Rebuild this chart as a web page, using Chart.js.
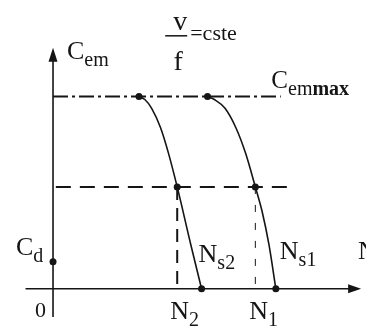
<!DOCTYPE html>
<html>
<head>
<meta charset="utf-8">
<script src="https://cdn.jsdelivr.net/npm/chart.js@4"></script>
<style>
html, body { margin: 0; padding: 0; background: #fff; }
#chart { display: block; }
</style>
</head>
<body>
<canvas id="chart" width="366" height="326"></canvas>
<script>
// vitesses (tr/min) et couples (% de Cemmax)
const syncSpeeds = [1500, 1000];          // Ns1, Ns2
const workSpeeds = [1362, 836];           // N1, N2
const torqueMax = 100;                    // Cemmax
const loadTorque = 53;                    // palier de charge
const startTorque = 14;                   // Cd

// caracteristique a f1
const curve1Speed  = [1040, 1086, 1158, 1231, 1296, 1362, 1408, 1454, 1500];
const curve1Torque = [100, 98.5, 93.9, 83.8, 70.6, 53, 40.1, 22.8, 0];
// caracteristique a f2 < f1
const curve2Speed  = [579, 618, 664, 724, 777, 836, 928, 1000];
const curve2Torque = [100, 98.5, 93.9, 83.8, 70.6, 53, 22.8, 0];

const xAxisEnds = [-185, 2074];
const yAxisEnds = [-14.7, 125.4];
const maxLineEnd = 1533;
const loadLineEnds = [19, 1580];

const INK = '#151515';
const FONT = '"Liberation Serif", "DejaVu Serif", serif';

function pts(xs, ys) {
    return xs.map((x, i) => ({ x: x, y: ys[i] }));
}

function seg(x0, y0, x1, y1) {
    return [{ x: x0, y: y0 }, { x: x1, y: y1 }];
}

function lineSet(data, width, dash, extra) {
    return Object.assign({
        data: data,
        showLine: true,
        borderColor: INK,
        borderWidth: width,
        borderDash: dash || [],
        pointRadius: 0,
        fill: false
    }, extra || {});
}

// etiquettes : ancre en donnees + decalage en pixels
const labels = [
    { at: [0, yAxisEnds[1]], dx: 14, dy: 11, main: 'C', sub: [{ t: 'em' }] },
    { at: [workSpeeds[0], torqueMax], dx: 16, dy: -9, main: 'C', sub: [{ t: 'em' }, { t: 'max', bold: true }], size: 25 },
    { at: [0, startTorque], dx: -37, dy: -7, main: 'C', sub: [{ t: 'd' }] },
    { at: [0, 0], dx: -18, dy: 28, main: '0', sub: [], size: 22 },
    { at: [syncSpeeds[1], 0], dx: -3, dy: -27, main: 'N', sub: [{ t: 's2' }] },
    { at: [syncSpeeds[0], 0], dx: 4, dy: -30, main: 'N', sub: [{ t: 's1' }] },
    { at: [workSpeeds[1], 0], dx: -7, dy: 30, main: 'N', sub: [{ t: '2' }] },
    { at: [workSpeeds[0], 0], dx: -6, dy: 30, main: 'N', sub: [{ t: '1' }] },
    { at: [xAxisEnds[1], 0], dx: -3, dy: -30, main: 'N', sub: [] }
];

function drawLabel(ctx, x, y, lab) {
    const size = lab.size || 26;
    ctx.font = size + 'px ' + FONT;
    ctx.fillText(lab.main, x, y);
    let cx = x + ctx.measureText(lab.main).width;
    lab.sub.forEach(function (s) {
        ctx.font = (s.bold ? 'bold ' : '') + '20px ' + FONT;
        ctx.fillText(s.t, cx, y + 7);
        cx += ctx.measureText(s.t).width;
    });
}

const sketchPlugin = {
    id: 'sketch',
    afterDatasetsDraw(chart) {
        const ctx = chart.ctx;
        const xs = chart.scales.x;
        const ys = chart.scales.y;
        ctx.save();
        ctx.fillStyle = INK;
        ctx.strokeStyle = INK;

        // fleches des axes
        const ox = xs.getPixelForValue(0);
        const ty = ys.getPixelForValue(yAxisEnds[1]);
        ctx.beginPath();
        ctx.moveTo(ox, ty);
        ctx.lineTo(ox - 4.5, ty + 14);
        ctx.lineTo(ox + 4.5, ty + 14);
        ctx.closePath();
        ctx.fill();

        const oy = ys.getPixelForValue(0);
        const tx = xs.getPixelForValue(xAxisEnds[1]);
        ctx.beginPath();
        ctx.moveTo(tx, oy);
        ctx.lineTo(tx - 13, oy - 4.5);
        ctx.lineTo(tx - 13, oy + 4.5);
        ctx.closePath();
        ctx.fill();

        ctx.textBaseline = 'alphabetic';
        labels.forEach(function (lab) {
            const px = xs.getPixelForValue(lab.at[0]) + lab.dx;
            const py = ys.getPixelForValue(lab.at[1]) + lab.dy;
            drawLabel(ctx, px, py, lab);
        });

        // v/f = cste
        const fx = xs.getPixelForValue(workSpeeds[1]) + 1;
        const fy = ty - 12;
        ctx.font = '28px ' + FONT;
        ctx.textAlign = 'center';
        ctx.fillText('v', fx + 2, fy - 6);
        ctx.fillText('f', fx, fy + 34);
        ctx.lineWidth = 1.5;
        ctx.beginPath();
        ctx.moveTo(fx - 13, fy);
        ctx.lineTo(fx + 9, fy);
        ctx.stroke();
        ctx.textAlign = 'left';
        ctx.font = '22px ' + FONT;
        ctx.fillText('=cste', fx + 12, fy + 4);
        ctx.restore();
    }
};

new Chart(document.getElementById('chart'), {
    type: 'scatter',
    data: {
        datasets: [
            {
                data: [
                    { x: curve2Speed[0], y: torqueMax },
                    { x: curve1Speed[0], y: torqueMax },
                    { x: workSpeeds[1], y: loadTorque },
                    { x: workSpeeds[0], y: loadTorque },
                    { x: syncSpeeds[1], y: 0 },
                    { x: syncSpeeds[0], y: 0 },
                    { x: 0, y: startTorque }
                ],
                pointRadius: 3.5,
                pointBackgroundColor: INK,
                pointBorderWidth: 0,
                showLine: false
            },
            lineSet(pts(curve1Speed, curve1Torque), 1.6, null, { cubicInterpolationMode: 'monotone' }),
            lineSet(pts(curve2Speed, curve2Torque), 1.6, null, { cubicInterpolationMode: 'monotone' }),
            lineSet(seg(0, torqueMax, maxLineEnd, torqueMax), 2, [15, 4, 3, 4]),
            lineSet(seg(loadLineEnds[0], loadTorque, loadLineEnds[1], loadTorque), 2, [15, 9]),
            lineSet(seg(workSpeeds[1], loadTorque, workSpeeds[1], 0), 2, [13, 8]),
            lineSet(seg(workSpeeds[0], loadTorque, workSpeeds[0], 0), 1, [7, 11]),
            lineSet(seg(xAxisEnds[0], 0, xAxisEnds[1] - 40, 0), 1.6),
            lineSet(seg(0, yAxisEnds[0], 0, yAxisEnds[1] - 3), 1.6)
        ]
    },
    options: {
        responsive: false,
        animation: false,
        events: [],
        layout: { padding: 0 },
        plugins: { legend: { display: false }, tooltip: { enabled: false } },
        scales: {
            x: { type: 'linear', display: false, min: -330, max: 2080 },
            y: { type: 'linear', display: false, min: -17.3, max: 148.2 }
        }
    },
    plugins: [sketchPlugin]
});
</script>
</body>
</html>
